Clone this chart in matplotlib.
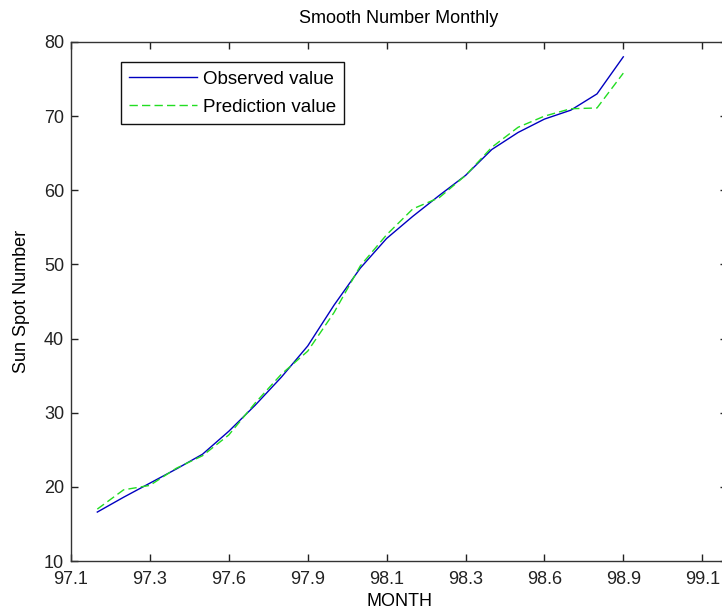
import matplotlib
matplotlib.use("Agg")
import matplotlib.pyplot as plt
import numpy as np

plt.rcParams['font.family'] = ['Liberation Sans', 'DejaVu Sans']

# tick labels on the month axis (equally spaced)
tick_labels = ["97.1", "97.3", "97.6", "97.9", "98.1", "98.3", "98.6", "98.9", "99.1"]

# month index (one point per month, three per tick step)
month_pos = [1/3, 2/3, 1.0, 4/3, 5/3, 2.0, 7/3, 8/3, 3.0, 10/3, 11/3, 4.0,
             13/3, 14/3, 5.0, 16/3, 17/3, 6.0, 19/3, 20/3, 7.0]

observed = [16.6, 18.6, 20.5, 22.4, 24.4, 27.5, 31.0, 34.8, 39.0, 44.5, 49.5,
            53.5, 56.5, 59.3, 62.0, 65.5, 67.8, 69.6, 70.8, 73.0, 78.0]
predicted = [17.0, 19.6, 20.2, 22.5, 24.2, 27.0, 31.3, 35.2, 38.3, 43.5, 49.8,
             54.0, 57.5, 59.0, 62.0, 65.8, 68.5, 70.0, 71.0, 71.1, 75.8]

fig = plt.figure(figsize=(7.22, 6.12), dpi=100)
ax = fig.add_axes([71/722, 51/612, 656/722, 519/612])

ax.plot(month_pos, observed, color='#0000c0', lw=1.0, label='Observed value')
ax.plot(month_pos, predicted, color='#22dd22', lw=1.0, ls=(0, (6, 3)), label='Prediction value')

ax.set_xlim(0, 656/78.9)
ax.set_ylim(10, 80)
ax.set_xticks(np.arange(len(tick_labels)))
ax.set_xticklabels(tick_labels)
ax.set_yticks(np.arange(10, 81, 10))

ax.tick_params(direction='in', length=5, width=1, top=True, right=True,
               labelsize=13, colors='#222222')
ax.tick_params(axis='x', pad=7)
ax.tick_params(axis='y', pad=5)
for s in ax.spines.values():
    s.set_linewidth(1.0)
    s.set_color('#333333')

ax.set_title("Smooth Number Monthly", fontsize=13, pad=14)
ax.set_xlabel("MONTH", fontsize=13, labelpad=4)
ax.set_ylabel("Sun Spot Number", fontsize=13, labelpad=10)

leg = ax.legend(loc='upper left', bbox_to_anchor=(50/656, 499/519), borderaxespad=0,
                fancybox=False, framealpha=1, edgecolor='#111111', fontsize=13.5,
                handlelength=3.6, handletextpad=0.3, labelspacing=0.6,
                borderpad=0.45)
leg.get_frame().set_linewidth(1.0)

fig.savefig("out.png", dpi=100)
